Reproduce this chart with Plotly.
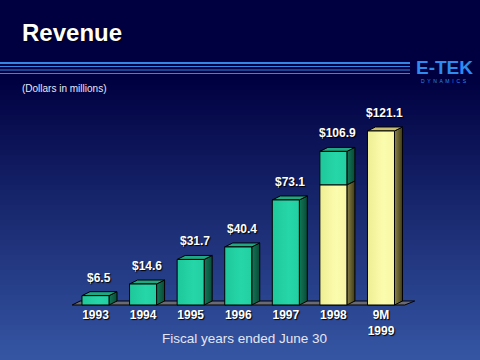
import plotly.graph_objects as go

# ---- data ----
years = ["1993", "1994", "1995", "1996", "1997", "1998", "9M<br>1999"]
revenue = [6.5, 14.6, 31.7, 40.4, 73.1, 106.9, 121.1]
value_labels = ["$6.5", "$14.6", "$31.7", "$40.4", "$73.1", "$106.9", "$121.1"]
nine_month_1998 = 83.5  # yellow comparison segment inside the 1998 bar
yellow_bars = [6]       # full-yellow bars

# ---- geometry (in axis units) ----
half_w = 0.284
dx, dy = 0.168, 2.78

W, H = 480, 360
ml, mr, mt, mb = 60, 60, 100, 54

GREEN_FRONT = [[0, "#1ec89a"], [0.6, "#26d6a8"], [1, "#22cfa2"]]
GREEN_TOP = "#1fa882"
GREEN_SIDE = [[0, "#127858"], [1, "#0a4a36"]]
YEL_FRONT = [[0, "#eeee94"], [0.6, "#fcfcae"], [1, "#f6f6a4"]]
YEL_TOP = "#c8c070"
YEL_SIDE = [[0, "#8c8448"], [1, "#3e3a18"]]

fig = go.Figure()


def poly(xs, ys, fill=None, grad=None):
    kw = dict(x=xs + [xs[0]], y=ys + [ys[0]], mode="lines", fill="toself",
              line=dict(color="#000000", width=1), hoverinfo="skip",
              showlegend=False)
    if grad is not None:
        kw["fillgradient"] = dict(type="horizontal", colorscale=grad)
    else:
        kw["fillcolor"] = fill
    fig.add_trace(go.Scatter(**kw))


def box(i, y0, y1, front, top, side, draw_top=True):
    xl, xr = i - half_w, i + half_w
    poly([xr, xr + dx, xr + dx, xr], [y0, y0 + dy, y1 + dy, y1], grad=side)
    if draw_top:
        poly([xl, xr, xr + dx, xl + dx], [y1, y1, y1 + dy, y1 + dy], fill=top)
    poly([xl, xr, xr, xl], [y0, y0, y1, y1], grad=front)


# floor
fx0, fx1 = -0.49, 6.5
poly([fx0, fx1, fx1 + dx + 0.04, fx0 + dx], [0, 0, dy, dy], fill="#6a6a74")

for i, v in enumerate(revenue):
    if i in yellow_bars:
        box(i, 0, v, YEL_FRONT, YEL_TOP, YEL_SIDE)
    elif i == 5:
        box(i, nine_month_1998, v, GREEN_FRONT, GREEN_TOP, GREEN_SIDE)
        box(i, 0, nine_month_1998, YEL_FRONT, YEL_TOP, YEL_SIDE, draw_top=False)
    else:
        box(i, 0, v, GREEN_FRONT, GREEN_TOP, GREEN_SIDE)

label_font = dict(family="Liberation Sans Narrow, Liberation Sans, Arial", size=12,
                  color="#ffffff", weight="bold", shadow="1px 1px 1px #000000")

annotations = []
for i, (v, t) in enumerate(zip(revenue, value_labels)):
    annotations.append(dict(x=i + dx / 2, y=v, text=t, showarrow=False,
                            yanchor="middle", yshift=18, font=label_font))


# helpers for decorative elements in paper coords
def px_x(p):
    return (p - ml) / (W - ml - mr)


def px_y(p):
    return (H - mb - p) / (H - mt - mb)


shapes = []
# background gradient
top_c = (0, 0, 64)
bot_c = (53, 86, 164)
shapes.append(dict(type="rect", xref="paper", yref="paper", x0=px_x(0), x1=px_x(W),
                   y0=px_y(0), y1=px_y(80), fillcolor="#000040", line=dict(width=0),
                   layer="below"))
n = 56
start, end = 80, 360
for k in range(n):
    a = start + (end - start) * k / n
    b = start + (end - start) * (k + 1) / n
    t = (k + 0.5) / n
    c = tuple(int(round(top_c[j] + (bot_c[j] - top_c[j]) * t)) for j in range(3))
    shapes.append(dict(type="rect", xref="paper", yref="paper", x0=px_x(0), x1=px_x(W),
                       y0=px_y(b + 0.5), y1=px_y(a), fillcolor="rgb(%d,%d,%d)" % c,
                       line=dict(width=0), layer="below"))

# horizontal header lines
for yy, lw in [(63, 2.2), (66.5, 1.2), (70, 1.2), (73.5, 1.2)]:
    shapes.append(dict(type="line", xref="paper", yref="paper", x0=px_x(0), x1=px_x(410),
                       y0=px_y(yy), y1=px_y(yy), line=dict(color="#3486e6", width=lw),
                       layer="below"))

annotations += [
    dict(xref="paper", yref="paper", x=px_x(20), y=px_y(33), xanchor="left",
         yanchor="middle", text="Revenue", showarrow=False,
         font=dict(family="Liberation Sans, Arial", size=24, color="#ffffff",
                   weight="bold", shadow="1px 1px 1px #000000")),
    dict(xref="paper", yref="paper", x=px_x(20), y=px_y(88), xanchor="left",
         yanchor="middle", text="(Dollars in millions)", showarrow=False,
         font=dict(family="Liberation Sans, Arial", size=10, color="#e8e8f4")),
    dict(xref="paper", yref="paper", x=px_x(444), y=px_y(67.5), xanchor="center",
         yanchor="middle", text="E-TEK", showarrow=False, borderpad=0,
         font=dict(family="Liberation Sans, Arial", size=19, color="#2c8cf2",
                   weight="bold")),
    dict(xref="paper", yref="paper", x=px_x(444), y=px_y(81.5), xanchor="center",
         yanchor="middle", text="D  Y  N  A  M  I  C  S", showarrow=False, borderpad=0,
         font=dict(family="Liberation Sans, Arial", size=5, color="#2c8cf2")),
    dict(xref="paper", yref="paper", x=px_x(245), y=px_y(338), xanchor="center",
         yanchor="middle", text="Fiscal years ended June 30", showarrow=False,
         font=dict(family="Liberation Sans, Arial", size=13.5, color="#e6e6f2")),
]

x0 = -0.746
x1 = x0 + (W - ml - mr) / 47.58
y0 = -0.7
y1 = y0 + (H - mt - mb) / 1.437

fig.update_layout(
    width=W, height=H, margin=dict(l=ml, r=mr, t=mt, b=mb),
    paper_bgcolor="#000040", plot_bgcolor="rgba(0,0,0,0)",
    showlegend=False, shapes=shapes, annotations=annotations,
    xaxis=dict(range=[x0, x1], tickvals=list(range(len(years))), ticktext=years,
               showgrid=False, zeroline=False, showline=False, ticks="",
               tickfont=label_font, fixedrange=True),
    yaxis=dict(range=[y0, y1], visible=False, fixedrange=True),
)

fig.write_html(
    "out.html",
    config={"displayModeBar": False},
    post_script="document.body.style.margin='0px';document.body.style.overflow='hidden';",
)
